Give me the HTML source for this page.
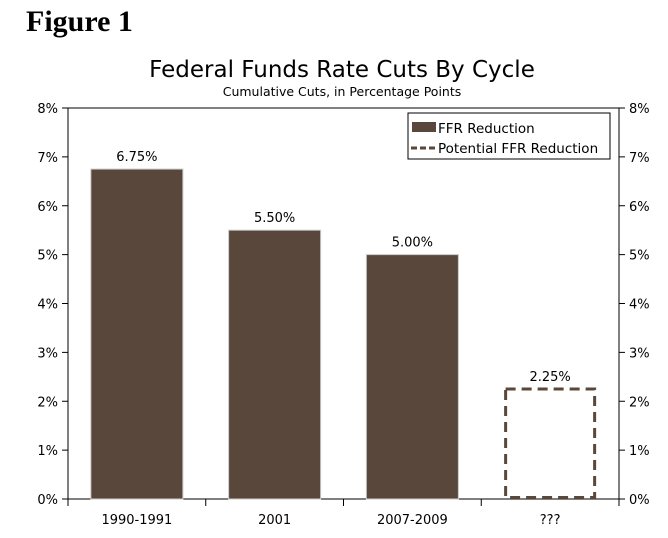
<!DOCTYPE html>
<html><head><meta charset="utf-8"><style>
body{margin:0;background:#fff;width:668px;height:534px;overflow:hidden;font-family:"DejaVu Sans","Liberation Sans",sans-serif}
</style></head><body>
<svg width="668" height="534">
<text x="26" y="31" font-family="Liberation Serif,serif" font-weight="bold" font-size="30">Figure 1</text>
<text x="342" y="77" text-anchor="middle" font-size="23">Federal Funds Rate Cuts By Cycle</text>
<text x="342" y="96" text-anchor="middle" font-size="12.5">Cumulative Cuts, in Percentage Points</text>
<g id="axes"></g>
<g id="bars"></g>
<g>
<rect x="408" y="113" width="202" height="46" fill="#fff" stroke="#000" stroke-width="1"/>
<rect x="412" y="122" width="24" height="10" fill="#58473a"/>
<text x="438" y="133" font-size="13.5">FFR Reduction</text>
<line x1="411" y1="148" x2="436" y2="148" stroke="#58473a" stroke-width="3" stroke-dasharray="6,3"/>
<text x="438" y="153" font-size="13.5">Potential FFR Reduction</text>
</g>
</svg>
<script>
const categories=["1990-1991","2001","2007-2009","???"];
const values=[6.75,5.50,5.00,2.25];
const potential=[false,false,false,true];
const ticks=[0,1,2,3,4,5,6,7,8];
const NS="http://www.w3.org/2000/svg";
const L=68,R=619,T=108,B=499,ymax=8;
const y=v=>B-(v/ymax)*(B-T);
const cw=(R-L)/categories.length;
const x=i=>L+cw*i;
function mk(tag,attrs,parent,txt){const e=document.createElementNS(NS,tag);for(const k in attrs)e.setAttribute(k,attrs[k]);if(txt!=null)e.textContent=txt;parent.appendChild(e);return e;}
const ax=document.getElementById('axes'),bg=document.getElementById('bars');
const topBorder=mk('line',{x1:L,y1:T,x2:R,y2:T,stroke:'#000'},ax);


const la=mk('line',{x1:L,y1:T,x2:L,y2:B,stroke:'#000'},ax);


const ra=mk('line',{x1:R,y1:T,x2:R,y2:B,stroke:'#000'},ax);


const xa=mk('line',{x1:L-4,y1:B,x2:R+4,y2:B,stroke:'#000'},ax);


ticks.forEach(t=>{
 mk('line',{x1:L-6,y1:y(t),x2:L,y2:y(t),stroke:'#000'},ax);
 mk('line',{x1:R,y1:y(t),x2:R+6,y2:y(t),stroke:'#000'},ax);
 const a=mk('text',{x:L-10,y:y(t)+5,'text-anchor':'end','font-size':13},ax,t+'%');
 
 
 const b=mk('text',{x:R+10,y:y(t)+5,'font-size':13},ax,t+'%');
 
 
});
for(let i=0;i<=categories.length;i++)mk('line',{x1:x(i),y1:B,x2:x(i),y2:B+7,stroke:'#000'},ax);
categories.forEach((c,i)=>{
 const cx=x(i)+cw/2,bw=92;
 let r;
 if(potential[i]) r=mk('rect',{x:cx-bw/2+1.5,y:y(values[i]),width:bw-3,height:B-y(values[i])-1.5,fill:'none',stroke:'#58473a','stroke-width':3,'stroke-dasharray':'10,6'},bg);
 else r=mk('rect',{x:cx-bw/2,y:y(values[i]),width:bw,height:B-y(values[i]),fill:'#58473a',stroke:'#c8c8c8','stroke-width':1},bg);
 
 
 const v=mk('text',{x:cx,y:y(values[i])-8,'text-anchor':'middle','font-size':13},bg,values[i].toFixed(2)+'%');
 
 
 const l=mk('text',{x:cx,y:B+25,'text-anchor':'middle','font-size':13},bg,c);
 
 
});
</script>
</body></html>
